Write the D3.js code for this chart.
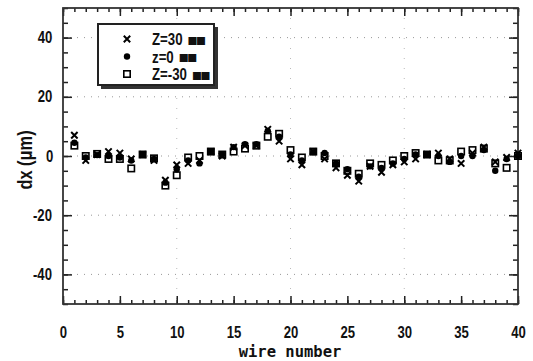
<!DOCTYPE html>
<html>
<head>
<meta charset="utf-8">
<script src="https://cdn.jsdelivr.net/npm/d3@7"></script>
<style>
  body { margin: 0; background: #fff; }
  .tick text {
    font-family: "Liberation Sans", Arial, sans-serif; font-weight: bold; fill: #111; font-size: 16px;
    transform-box: fill-box; transform-origin: center; transform: scaleX(0.82);
  }
</style>
</head>
<body>
<div id="chart"></div>
<script>
// wire numbers 1..40
var wires = [1,2,3,4,5,6,7,8,9,10,11,12,13,14,15,16,17,18,19,20,
             21,22,23,24,25,26,27,28,29,30,31,32,33,34,35,36,37,38,39,40];

var zPlus30  = [7,-1.5,0.5,1.5,1,-1,0.5,-1.5,-8.2,-3,-2.5,-1.5,1.5,0,3,3.5,3.5,9,5,-1,
                -3,1.5,-1,-4,-6.5,-8.5,-3.5,-5.5,-3,-2,-1,0.5,1,-1,-2.5,1,3,-2,-0.5,1];
var zZero    = [4.5,-0.5,0.3,0,-0.5,-1.5,0.5,-1,-9,-4.5,-1.5,-2.5,1.5,0.5,3,4,4,8.5,6.5,0.5,
                -1.5,1.3,1,-2.5,-4.5,-7,-3.5,-4,-2.5,-1,0.5,0.5,0,-2,0,0,2,-5,-1,0];
var zMinus30 = [3.5,0,0.7,-1,-1,-4.2,0.5,-0.8,-10,-6.5,-0.5,0,1.5,0.5,1.5,2.5,3.5,6.5,7.5,2,
                -0.5,1.5,0,-2.5,-5,-6,-2.5,-3,-1.5,0,1,0.5,-1.5,-1.5,1.5,2,2.5,-2.5,-4,0];

var xTicks = [0,5,10,15,20,25,30,35,40];
var yTicks = [-40,-20,0,20,40];
var legendLabels = ["Z=30", "z=0", "Z=-30"];
var legendTail = "\u25A0\u25A0";

var margin = {top: 8, right: 15, bottom: 57, left: 63};
var width = 533, height = 361;
var w = width - margin.left - margin.right;
var h = height - margin.top - margin.bottom;

var svg = d3.select("#chart").append("svg")
  .attr("width", width)
  .attr("height", height);

var plot = svg.append("g")
  .attr("transform", "translate(" + margin.left + "," + margin.top + ")");

var x = d3.scaleLinear().domain([0, 40]).range([0, w]);
var y = d3.scaleLinear().domain([-50, 50]).range([h, 0]);

// dotted grid
plot.append("g").selectAll("line")
  .data(yTicks)
  .join("line")
  .attr("x1", 0).attr("x2", w)
  .attr("y1", d => y(d)).attr("y2", d => y(d))
  .attr("stroke", "#999").attr("stroke-width", 1)
  .attr("stroke-dasharray", "1,6");

plot.append("g").selectAll("line")
  .data([10, 20, 30])
  .join("line")
  .attr("y1", 0).attr("y2", h)
  .attr("x1", d => x(d)).attr("x2", d => x(d))
  .attr("stroke", "#bbb").attr("stroke-width", 1)
  .attr("stroke-dasharray", "1,9");

// axes: major labelled ticks plus minor ticks, all pointing inward
function styleAxis(g) {
  g.select(".domain").remove();
  g.selectAll(".tick line").attr("stroke", "#222").attr("stroke-width", 1.5);
}

var minorX = d3.range(0, 41);
var minorY = d3.range(-50, 51, 5);
var fmt = d => d3.format("d")(d).replace("\u2212", "-");

plot.append("g")
  .attr("transform", "translate(0," + h + ")")
  .call(d3.axisBottom(x).tickValues(minorX).tickSize(-4).tickFormat(""))
  .call(styleAxis);
plot.append("g")
  .attr("transform", "translate(0," + h + ")")
  .call(d3.axisBottom(x).tickValues(xTicks).tickSize(-8).tickPadding(23).tickFormat(fmt))
  .call(styleAxis);

plot.append("g")
  .call(d3.axisTop(x).tickValues(minorX).tickSize(-4).tickFormat(""))
  .call(styleAxis);
plot.append("g")
  .call(d3.axisTop(x).tickValues(xTicks).tickSize(-8).tickFormat(""))
  .call(styleAxis);

plot.append("g")
  .call(d3.axisLeft(y).tickValues(minorY).tickSize(-5).tickFormat(""))
  .call(styleAxis);
plot.append("g")
  .call(d3.axisLeft(y).tickValues(yTicks).tickSize(-9).tickPadding(9).tickFormat(fmt))
  .call(styleAxis);

plot.append("g")
  .attr("transform", "translate(" + w + ",0)")
  .call(d3.axisRight(y).tickValues(minorY).tickSize(-5).tickFormat(""))
  .call(styleAxis);
plot.append("g")
  .attr("transform", "translate(" + w + ",0)")
  .call(d3.axisRight(y).tickValues(yTicks).tickSize(-9).tickFormat(""))
  .call(styleAxis);

// frame
plot.append("rect")
  .attr("width", w).attr("height", h)
  .attr("fill", "none").attr("stroke", "#333").attr("stroke-width", 1.8);

// markers
function drawCross(g, px, py) {
  var s = 3.2;
  g.append("path")
    .attr("d", "M" + (px - s) + "," + (py - s) + "L" + (px + s) + "," + (py + s) +
               "M" + (px - s) + "," + (py + s) + "L" + (px + s) + "," + (py - s))
    .attr("stroke", "#000").attr("stroke-width", 2).attr("fill", "none");
}
function drawDot(g, px, py) {
  g.append("circle").attr("cx", px).attr("cy", py).attr("r", 3.2).attr("fill", "#000");
}
function drawSquare(g, px, py) {
  g.append("rect").attr("x", px - 3.2).attr("y", py - 3.2)
    .attr("width", 6.4).attr("height", 6.4)
    .attr("fill", "#fff").attr("stroke", "#000").attr("stroke-width", 1.6);
}

var pts = plot.append("g");
wires.forEach(function(wn, i) {
  drawSquare(pts, x(wn), y(zMinus30[i]));
});
wires.forEach(function(wn, i) {
  drawDot(pts, x(wn), y(zZero[i]));
});
wires.forEach(function(wn, i) {
  drawCross(pts, x(wn), y(zPlus30[i]));
});

// legend
var lg = svg.append("g").attr("transform", "translate(98,24)");
lg.append("rect").attr("x", 3).attr("y", 3).attr("width", 117).attr("height", 62).attr("fill", "#333");
lg.append("rect").attr("width", 116).attr("height", 61)
  .attr("fill", "#fff").attr("stroke", "#222").attr("stroke-width", 2);

var markers = [drawCross, drawDot, drawSquare];
var sx = 0.78;
legendLabels.forEach(function(lbl, i) {
  var ly = 15 + i * 17.5;
  markers[i](lg, 29, ly);
  var t = lg.append("text")
    .attr("transform", "translate(54," + (ly + 6) + ") scale(" + sx + ",1)")
    .attr("font-family", "'Liberation Sans', Arial, sans-serif")
    .attr("font-weight", "bold").attr("font-size", 17)
    .attr("fill", "#111")
    .text(lbl);
  var tw = t.node().getComputedTextLength() * sx;
  lg.append("text")
    .attr("x", 54 + tw + 5).attr("y", ly + 4.5)
    .attr("font-family", "'DejaVu Sans', sans-serif")
    .attr("font-size", 10.5)
    .attr("letter-spacing", -1.5)
    .attr("fill", "#111")
    .text(legendTail);
});

// axis titles
svg.append("text")
  .attr("x", 290).attr("y", 357)
  .attr("text-anchor", "middle")
  .attr("font-family", "'DejaVu Sans Mono', monospace")
  .attr("font-weight", "bold").attr("font-size", 15.5)
  .attr("fill", "#111")
  .text("wire number");

svg.append("text")
  .attr("transform", "translate(32,160) rotate(-90) scale(0.82,1)")
  .attr("text-anchor", "middle")
  .attr("font-family", "'Liberation Sans', Arial, sans-serif")
  .attr("font-weight", "bold").attr("font-size", 20)
  .attr("fill", "#111")
  .text("dx (\u03BCm)");
</script>
</body>
</html>
